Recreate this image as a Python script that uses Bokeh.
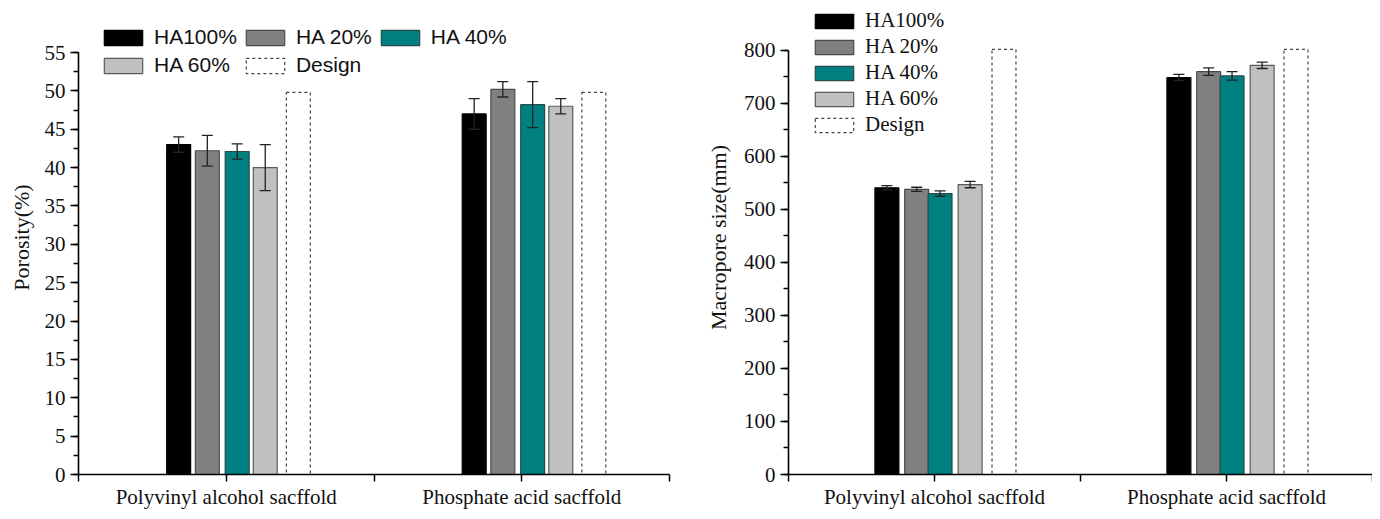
from bokeh.plotting import figure
from bokeh.models import (ColumnDataSource, Whisker, TeeHead, Legend, LegendItem,
                          FixedTicker, SingleIntervalTicker, Range1d)
from bokeh.layouts import row
from bokeh.embed import file_html
from bokeh.resources import INLINE

# ---------------- data ----------------
categories = ["Polyvinyl alcohol sacffold", "Phosphate acid sacffold"]
cat_pos = [1, 2]
series = ["HA100%", "HA 20%", "HA 40%", "HA 60%", "Design"]

por_ha100 = [43.0, 47.0]
por_ha100_err = [1.0, 2.0]
por_ha20 = [42.2, 50.2]
por_ha20_err = [2.0, 1.0]
por_ha40 = [42.1, 48.2]
por_ha40_err = [1.0, 3.0]
por_ha60 = [40.0, 48.0]
por_ha60_err = [3.0, 1.0]
por_design = [49.8, 49.8]

size_ha100 = [541, 749]
size_ha100_err = [4, 6]
size_ha20 = [538, 760]
size_ha20_err = [4, 7]
size_ha40 = [530, 752]
size_ha40_err = [5, 8]
size_ha60 = [547, 772]
size_ha60_err = [6, 6]
size_design = [802, 802]

# ---------------- styles ----------------
fills = ["#000000", "#808080", "#008080", "#C0C0C0", None]
lines = ["#000000", "#4a4a4a", "#2a4a4a", "#5a5a5a", "#444444"]
SERIF = "Liberation Serif"
SANS = "Liberation Sans"


def style_axes(p, ymax_tick, yint, ylabel, label_standoff):
    p.outline_line_color = None
    p.xgrid.visible = False
    p.ygrid.visible = False
    p.background_fill_color = "white"
    p.border_fill_color = "white"
    for ax in (p.xaxis[0], p.yaxis[0]):
        ax.axis_line_width = 1.6
        ax.axis_line_color = "black"
        ax.major_tick_line_width = 1.5
        ax.major_tick_line_color = "black"
        ax.minor_tick_line_width = 1.5
        ax.minor_tick_line_color = "black"
        ax.major_label_text_font = SERIF
        ax.major_label_text_font_size = "21px"
        ax.major_label_text_color = "#111111"
        ax.major_tick_in = 0
        ax.minor_tick_in = 0
    p.yaxis.ticker = SingleIntervalTicker(interval=yint, num_minor_ticks=2)
    p.yaxis.bounds = (0, ymax_tick)
    p.yaxis.major_tick_out = 8
    p.yaxis.minor_tick_out = 5
    p.yaxis.major_label_standoff = 5
    p.yaxis.axis_label = ylabel
    p.yaxis.axis_label_text_font = SERIF
    p.yaxis.axis_label_text_font_size = "22px"
    p.yaxis.axis_label_text_font_style = "normal"
    p.yaxis.axis_label_text_color = "#111111"
    p.yaxis.axis_label_standoff = label_standoff
    p.xaxis.ticker = FixedTicker(ticks=[0.5, 1, 1.5, 2, 2.5])
    p.xaxis.major_label_overrides = {0.5: "", 1: categories[0], 1.5: "",
                                     2: categories[1], 2.5: ""}
    p.xaxis.minor_tick_line_color = None
    p.xaxis.major_tick_out = 7
    p.xaxis.major_label_standoff = 3


def add_bars(p, vals, errs, offsets, width):
    renderers = []
    for i, name in enumerate(series):
        xs = [c + offsets[i] for c in cat_pos]
        src = ColumnDataSource(dict(x=xs, top=vals[i]))
        if fills[i] is None:
            r = p.vbar(x="x", top="top", bottom=0, width=width, source=src,
                       fill_color=None, line_color=lines[i], line_width=1.2,
                       line_dash="3 3")
        else:
            r = p.vbar(x="x", top="top", bottom=0, width=width, source=src,
                       fill_color=fills[i], line_color=lines[i], line_width=1.2)
        renderers.append(r)
        if errs[i] is not None:
            esrc = ColumnDataSource(dict(
                x=xs,
                upper=[v + e for v, e in zip(vals[i], errs[i])],
                lower=[v - e for v, e in zip(vals[i], errs[i])]))
            w = Whisker(source=esrc, base="x", upper="upper", lower="lower",
                        line_color="#222222", line_width=1.3, level="annotation",
                        upper_head=TeeHead(size=11, line_color="#222222", line_width=1.3),
                        lower_head=TeeHead(size=11, line_color="#222222", line_width=1.3))
            p.add_layout(w)
    return renderers


# ---------------- left chart ----------------
p1 = figure(width=690, height=511, output_backend="svg", toolbar_location=None,
            x_range=Range1d(0.5, 2.5), y_range=Range1d(0, 61.78),
            min_border_left=78, min_border_right=21, min_border_top=0,
            min_border_bottom=37)
style_axes(p1, 55, 5, "Porosity(%)", 8)
r1 = add_bars(p1, [por_ha100, por_ha20, por_ha40, por_ha60, por_design],
              [por_ha100_err, por_ha20_err, por_ha40_err, por_ha60_err, None],
              [-0.161, -0.064, 0.037, 0.132, 0.244], 0.081)
leg1 = Legend(items=[LegendItem(label=s, renderers=[r]) for s, r in zip(series, r1)],
              orientation="horizontal", ncols=3, location=(21, 397),
              glyph_width=48, glyph_height=19, label_height=19, spacing=4,
              label_standoff=7, padding=0, margin=0,
              label_text_font=SANS, label_text_font_size="21px",
              label_text_color="#111111",
              border_line_color=None, background_fill_alpha=0)
p1.add_layout(leg1)

# ---------------- right chart ----------------
p2 = figure(width=682, height=511, output_backend="svg", toolbar_location=None,
            x_range=Range1d(0.5, 2.5), y_range=Range1d(0, 894.3),
            min_border_left=98, min_border_right=0, min_border_top=0,
            min_border_bottom=37)
style_axes(p2, 800, 100, "Macropore size(mm)", 10)
r2 = add_bars(p2, [size_ha100, size_ha20, size_ha40, size_ha60, size_design],
              [size_ha100_err, size_ha20_err, size_ha40_err, size_ha60_err, None],
              [-0.163, -0.061, 0.019, 0.122, 0.238], 0.082)
leg2 = Legend(items=[LegendItem(label=s, renderers=[r]) for s, r in zip(series, r2)],
              orientation="vertical", location=(22, 337),
              glyph_width=48, glyph_height=18, label_height=18, spacing=1,
              label_standoff=7, padding=0, margin=0,
              label_text_font=SERIF, label_text_font_size="21px",
              label_text_color="#111111",
              border_line_color=None, background_fill_alpha=0)
p2.add_layout(leg2)

layout = row(p1, p2)
open("out.html", "w").write(file_html(layout, INLINE))
